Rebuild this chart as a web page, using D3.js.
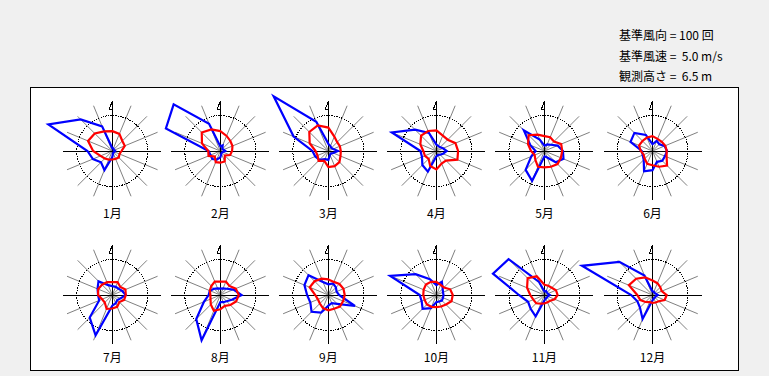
<!DOCTYPE html>
<html>
    <head>
        <title>風配図</title>
        <meta charset="utf-8">
        <style>
            html, body {
                margin: 0px;
                padding: 0px;
                background-color: #f0f0f0;
                font-family: "Noto Sans CJK JP", sans-serif;
            }

            #main svg {
                display: block;
            }

            text {
                font-size: 12px;
                fill: #000;
            }

            .axis, rect {
                shape-rendering: crispEdges;
            }
        </style>
        <script src="https://cdn.jsdelivr.net/npm/d3@7"></script>
    </head>
    <body>
        <div id="main">
        </div>

        <script>
            // 16方位 (北から時計回り)
            var directions = ["北", "北北東", "北東", "東北東", "東", "東南東", "南東", "南南東",
                              "南", "南南西", "南西", "西南西", "西", "西北西", "北西", "北北西"];
            var months = ["1月", "2月", "3月", "4月", "5月", "6月",
                          "7月", "8月", "9月", "10月", "11月", "12月"];
            var legendLines = ["基準風向 = 100 回", "基準風速 =  5.0 m/s", "観測高さ =  6.5 m"];

            // 風向出現回数
            var freq = [
                [8, 8, 5, 6, 8, 6, 5, 6, 17, 58, 45, 59, 70, 195, 126, 75],
                [13, 17, 8, 10, 14, 8, 6, 8, 18, 26, 32, 30, 33, 166, 186, 83],
                [20, 15, 12, 15, 27, 15, 10, 12, 25, 25, 35, 40, 45, 106, 218, 89],
                [18, 15, 15, 20, 29, 20, 15, 12, 15, 63, 56, 44, 45, 136, 85, 55],
                [15, 20, 25, 40, 52, 58, 45, 20, 15, 91, 75, 40, 25, 43, 82, 35],
                [19, 31, 27, 37, 41, 38, 39, 33, 54, 62, 35, 30, 30, 67, 72, 49],
                [25, 25, 25, 30, 38, 25, 20, 25, 30, 123, 90, 40, 40, 45, 55, 30],
                [18, 20, 25, 40, 60, 35, 25, 22, 20, 138, 96, 50, 33, 32, 25, 20],
                [30, 35, 30, 25, 30, 81, 35, 25, 30, 54, 67, 55, 60, 73, 79, 40],
                [28, 40, 25, 20, 20, 20, 22, 20, 20, 40, 55, 45, 47, 141, 83, 48],
                [10, 12, 10, 10, 15, 10, 10, 10, 15, 65, 55, 50, 72, 157, 143, 40],
                [10, 10, 8, 10, 15, 10, 10, 10, 15, 73, 50, 46, 60, 215, 132, 59]
            ];

            // 風向別平均風速 (m/s)
            var speed = [
                [2.8, 2.6, 2.0, 1.9, 1.3, 1.1, 1.3, 1.2, 1.2, 1.3, 1.5, 1.8, 2.7, 3.7, 3.5, 3.0],
                [2.8, 2.3, 2.0, 1.85, 1.65, 1.5, 0.9, 1.6, 1.65, 1.7, 1.1, 1.8, 1.7, 2.8, 3.7, 3.3],
                [3.3, 2.2, 1.75, 1.75, 1.75, 1.85, 2.2, 2.3, 2.25, 1.5, 1.95, 1.65, 1.8, 2.85, 3.8, 3.9],
                [2.9, 2.35, 2.25, 2.9, 3.05, 3.2, 1.9, 1.9, 2.6, 2.3, 1.55, 1.75, 1.85, 2.45, 3.05, 3.05],
                [2.1, 2.1, 1.9, 2.55, 2.5, 2.5, 2.6, 2.4, 2.3, 2.4, 1.8, 1.5, 1.9, 2.5, 3.15, 2.5],
                [2.1, 1.85, 1.85, 1.95, 2.0, 2.15, 2.9, 2.4, 2.0, 1.95, 1.55, 1.35, 1.65, 2.05, 2.0, 2.05],
                [1.8, 1.95, 1.6, 2.0, 1.9, 1.8, 1.4, 1.8, 1.9, 2.1, 1.5, 1.55, 2.0, 2.15, 2.05, 1.95],
                [1.9, 2.05, 1.8, 2.35, 2.6, 2.4, 2.0, 1.65, 2.0, 2.4, 1.9, 1.5, 1.4, 1.6, 1.8, 2.05],
                [2.2, 2.0, 2.2, 2.3, 2.3, 2.25, 2.3, 2.1, 2.15, 2.0, 1.7, 1.6, 1.85, 2.85, 2.75, 2.5],
                [1.85, 1.55, 1.5, 2.1, 2.3, 2.3, 1.9, 1.75, 1.7, 1.8, 1.9, 1.8, 1.85, 1.95, 2.1, 2.0],
                [1.45, 1.4, 1.45, 1.75, 1.85, 1.55, 1.15, 1.1, 1.2, 1.3, 1.65, 1.7, 2.0, 2.65, 3.35, 2.85],
                [2.05, 1.8, 1.55, 1.4, 2.0, 1.85, 1.25, 1.15, 1.1, 1.1, 1.4, 1.85, 2.15, 3.6, 3.25, 2.7]
            ];

            var refFreq = 100;
            var refSpeed = 5.0;

            var width = 769;
            var height = 376;
            var ringRadius = 35.5;
            var axisLength = 49;

            function drawRose(g, i) {
                var angle = d3.scalePoint()
                    .domain(directions)
                    .range([0, 2 * Math.PI * 15 / 16]);

                var rFreq = d3.scaleLinear().domain([0, refFreq]).range([0, ringRadius]);
                var rSpeed = d3.scaleLinear().domain([0, refSpeed]).range([0, ringRadius]);

                // 16方位の補助線
                g.selectAll(".spoke")
                    .data(directions.filter(function(d, k) { return k % 4 != 0; }))
                    .enter().append("line")
                    .attr("class", "spoke")
                    .attr("x1", 0).attr("y1", 0)
                    .attr("x2", function(d) { return Math.sin(angle(d)) * axisLength; })
                    .attr("y2", function(d) { return -Math.cos(angle(d)) * axisLength; })
                    .attr("stroke", "#808080")
                    .attr("stroke-width", 1);

                g.append("circle")
                    .attr("r", ringRadius)
                    .attr("fill", "none")
                    .attr("stroke", "#000")
                    .attr("stroke-width", 1)
                    .attr("stroke-dasharray", "1.5,1")
                    .attr("shape-rendering", "crispEdges");

                g.append("line")
                    .attr("class", "axis")
                    .attr("x1", -axisLength).attr("x2", axisLength)
                    .attr("y1", 0).attr("y2", 0)
                    .attr("stroke", "#000");
                g.append("line")
                    .attr("class", "axis")
                    .attr("x1", 0).attr("x2", 0)
                    .attr("y1", -axisLength - 1).attr("y2", axisLength)
                    .attr("stroke", "#000");

                // 北の印
                g.append("path")
                    .attr("d", "M0," + (-axisLength - 1) + "L-3," + (-axisLength + 7) + "L0," + (-axisLength + 7))
                    .attr("fill", "none")
                    .attr("stroke", "#000")
                    .attr("shape-rendering", "crispEdges");

                var freqLine = d3.lineRadial()
                    .curve(d3.curveLinearClosed)
                    .angle(function(d, k) { return angle(directions[k]); })
                    .radius(function(d) { return rFreq(d); });

                var speedLine = d3.lineRadial()
                    .curve(d3.curveLinearClosed)
                    .angle(function(d, k) { return angle(directions[k]); })
                    .radius(function(d) { return rSpeed(d); });

                g.append("path")
                    .datum(freq[i])
                    .attr("d", freqLine)
                    .attr("fill", "none")
                    .attr("stroke", "#0000ff")
                    .attr("stroke-width", 2.2);

                g.append("path")
                    .datum(speed[i])
                    .attr("d", speedLine)
                    .attr("fill", "none")
                    .attr("stroke", "#ff0000")
                    .attr("stroke-width", 2.2);

                g.append("text")
                    .attr("x", 0)
                    .attr("y", 67)
                    .attr("text-anchor", "middle")
                    .text(months[i]);
            }

            function main() {
                var svg = d3.select("#main")
                    .append("svg")
                    .attr("width", width)
                    .attr("height", height);

                svg.append("rect")
                    .attr("x", 30.5).attr("y", 87.5)
                    .attr("width", 708).attr("height", 283)
                    .attr("fill", "#fff")
                    .attr("stroke", "#000");

                svg.selectAll(".legend")
                    .data(legendLines)
                    .enter().append("text")
                    .attr("class", "legend")
                    .attr("x", 619)
                    .attr("y", function(d, k) { return 40 + k * 20.5; })
                    .text(function(d) { return d.replace(/ /g, "\u00a0"); });

                var colX = d3.scaleLinear().domain([0, 5]).range([112.3, 652.5]);
                var rowY = d3.scaleLinear().domain([0, 1]).range([151, 295]);

                months.forEach(function(m, i) {
                    var g = svg.append("g")
                        .attr("transform", "translate(" + colX(i % 6) + "," + rowY(Math.floor(i / 6)) + ")");
                    drawRose(g, i);
                });
            }

            main();
        </script>
    </body>
</html>
